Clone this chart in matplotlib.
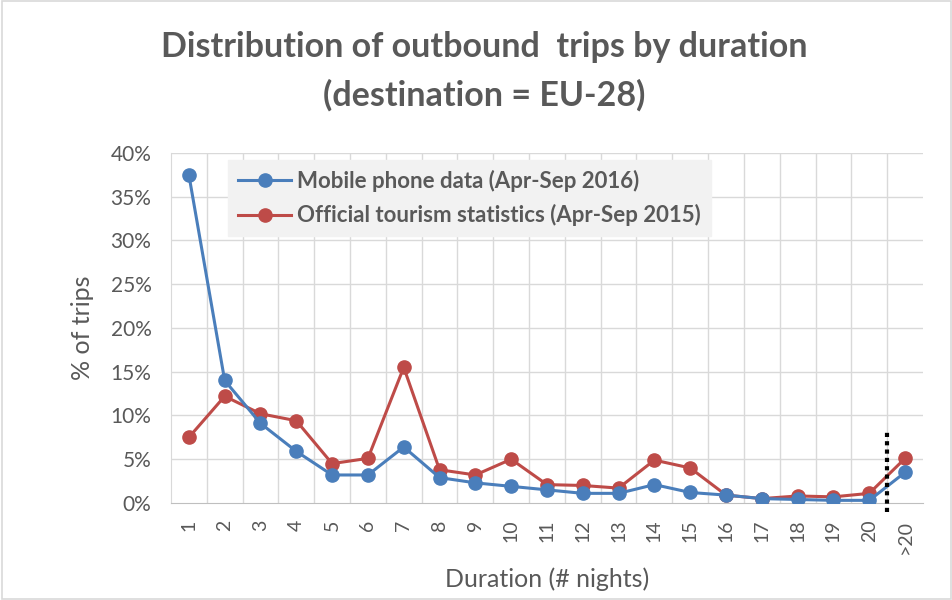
import matplotlib
matplotlib.use("Agg")
import matplotlib.pyplot as plt
from matplotlib.ticker import FuncFormatter
from matplotlib.patches import Rectangle

categories = ["1", "2", "3", "4", "5", "6", "7", "8", "9", "10", "11", "12", "13",
              "14", "15", "16", "17", "18", "19", "20", ">20"]
mobile = [37.5, 14.0, 9.1, 5.9, 3.2, 3.2, 6.4, 2.9, 2.3, 1.9, 1.5, 1.1, 1.1,
          2.1, 1.2, 0.9, 0.5, 0.4, 0.3, 0.3, 3.5]
official = [7.5, 12.2, 10.2, 9.4, 4.5, 5.1, 15.5, 3.8, 3.2, 5.0, 2.1, 2.0, 1.7,
            4.9, 4.0, 0.9, 0.5, 0.8, 0.7, 1.1, 5.1]
yticks = [0, 5, 10, 15, 20, 25, 30, 35, 40]

plt.rcParams['font.family'] = ['Lato', 'DejaVu Sans']
gray = "#595959"
blue = "#4a7ebb"
red = "#be4b48"

fig = plt.figure(figsize=(9.53, 6.0), dpi=100)
fig.patches.append(Rectangle((0.002, 0.002), 0.996, 0.996, transform=fig.transFigure,
                             fill=False, edgecolor="#d9d9d9", linewidth=1.2))
ax = fig.add_axes([0.1794, 0.1617, 0.7891, 0.5833])

x = list(range(len(categories)))
ax.plot(x, official, color=red, marker='o', markersize=9.5, linewidth=2.2,
        label="Official tourism statistics (Apr-Sep 2015)", zorder=3)
ax.plot(x, mobile, color=blue, marker='o', markersize=9.5, linewidth=2.2,
        label="Mobile phone data (Apr-Sep 2016)", zorder=4)

ax.set_xlim(-0.5, len(categories) - 0.5)
ax.set_ylim(0, 40)
ax.set_yticks(yticks)
ax.yaxis.set_major_formatter(FuncFormatter(lambda v, p: f"{int(v)}%"))
ax.set_xticks(x)
ax.set_xticklabels(categories, rotation=90, color=gray, fontsize=14)
ax.tick_params(axis='y', colors=gray, labelsize=15, length=0, pad=14)
ax.tick_params(axis='x', length=0, pad=12)
for t in ax.get_yticklabels():
    t.set_color(gray)

# grid: horizontal at ticks, vertical at category boundaries
for yv in yticks[1:]:
    ax.axhline(yv, color="#d9d9d9", linewidth=1, zorder=0)
for b in range(1, len(categories)):
    ax.axvline(b - 0.5, color="#d9d9d9", linewidth=1, zorder=0)
for s in ["top", "right"]:
    ax.spines[s].set_visible(False)
ax.spines["left"].set_color("#d9d9d9")
ax.spines["bottom"].set_color("#bfbfbf")

# dotted separator between 20 and >20
ax.plot([19.5, 19.5], [-1.0, 8.5], color="black", linestyle=(0, (1, 1)),
        linewidth=3, clip_on=False, zorder=5)

ax.set_ylabel("% of trips", color=gray, fontsize=18, labelpad=12)
ax.set_xlabel("Duration (# nights)", color=gray, fontsize=18, labelpad=10)

handles, labels = ax.get_legend_handles_labels()
leg = ax.legend(handles[::-1], labels[::-1], loc='upper left', bbox_to_anchor=(0.0758, 0.98),
                borderaxespad=0, frameon=True, fancybox=False, facecolor="#f2f2f2",
                edgecolor="#f2f2f2", framealpha=1, prop={'weight': 'bold', 'size': 16},
                labelcolor=gray, handlelength=2.4, handletextpad=0.25, borderpad=0.45,
                labelspacing=0.55)

fig.text(0.508, 0.922, "Distribution of outbound  trips by duration", ha='center', va='center',
         fontsize=24.5, fontweight='bold', color=gray)
fig.text(0.508, 0.842, "(destination = EU-28)", ha='center', va='center',
         fontsize=24.5, fontweight='bold', color=gray)

fig.savefig("out.png", dpi=100)
